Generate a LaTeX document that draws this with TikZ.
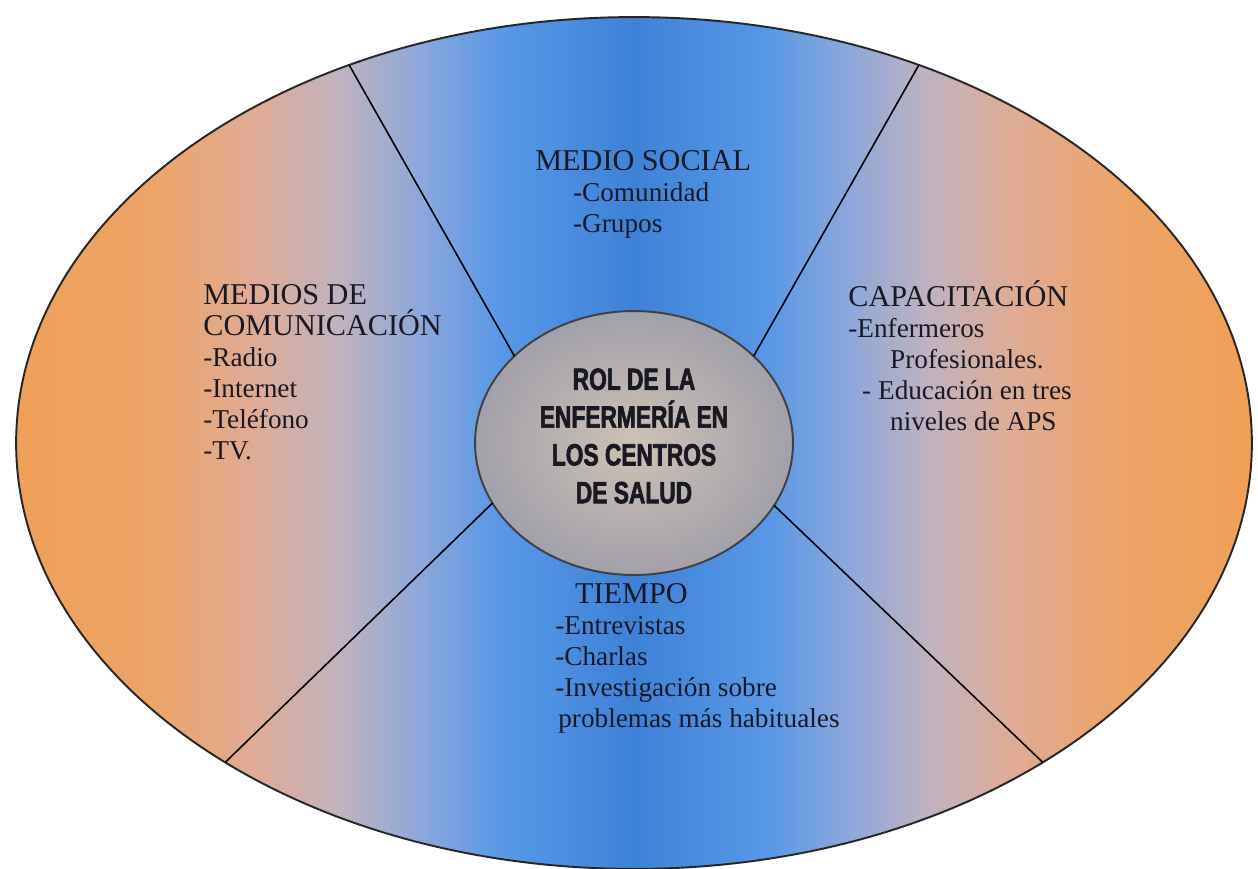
\documentclass[tikz,border=0pt]{standalone}
\usepackage{fontspec}
\setmainfont{Liberation Serif}
\newfontfamily\rolfont{Liberation Sans}[FakeStretch=0.74, FakeBold=2]
\usepackage{tikz}
\usetikzlibrary{shapes,positioning}

\definecolor{naranja}{RGB}{240,160,88}
\definecolor{naranjaclaro}{RGB}{236,164,104}
\definecolor{rosado}{RGB}{222,172,150}
\definecolor{grisrosa}{RGB}{192,178,192}
\definecolor{azulgris}{RGB}{140,168,218}
\definecolor{azulclaro}{RGB}{88,152,230}
\definecolor{azul}{RGB}{62,130,216}
\definecolor{centroclaro}{RGB}{206,194,180}
\definecolor{centrogris}{RGB}{162,160,170}
\definecolor{tinta}{RGB}{25,25,35}

% orange at the rim, blue down the middle
\pgfdeclarehorizontalshading{franjas}{100bp}{
  color(0bp)=(naranja); color(25bp)=(naranja); color(30.4bp)=(naranjaclaro);
  color(34.9bp)=(rosado); color(38.1bp)=(grisrosa); color(41.3bp)=(azulgris);
  color(44.6bp)=(azulclaro); color(50bp)=(azul); color(55.4bp)=(azulclaro);
  color(58.7bp)=(azulgris); color(61.9bp)=(grisrosa); color(65.1bp)=(rosado);
  color(69.6bp)=(naranjaclaro); color(75bp)=(naranja); color(100bp)=(naranja)}

\newcommand\titulo[1]{{\fontsize{17.2}{17.6}\selectfont #1}}

\tikzset{
marco/.style={ellipse, draw=black!85, line width=1.1pt, shading=franjas,
  minimum width=24.72cm, minimum height=17.04cm, inner sep=0pt, outer sep=0pt}, % the big oval
rol/.style={ellipse, draw=black!75, line width=1.1pt, inner color=centroclaro, outer color=centrogris,
  minimum width=6.36cm, minimum height=5.28cm, inner sep=0pt, outer sep=0pt}, % centre
rotulo/.style={align=center, inner sep=0pt, text=tinta, yshift=4pt,
  font=\rolfont\bfseries\fontsize{17.5}{21.5}\selectfont}, % centre title
divisor/.style={black, line width=0.9pt}, % lines between the sectors
bloque/.style={anchor=base west, align=left, inner sep=0pt, text=tinta,
  font=\fontsize{15.5}{17.6}\selectfont} % sector texts, placed by their last line
}

\begin{document}
\begin{tikzpicture}[x=0.02cm, y=-0.02cm]
        \useasboundingbox (0,0) rectangle (1258,869);
        \node [marco] (marco) at (634,443) {};
        \node [rol, label={[rotulo]center:ROL DE LA\\ENFERMERÍA EN\\LOS CENTROS\\DE SALUD}] (rol) at (634,443) {};
        \draw [divisor] (rol.144) -- (marco.127);
        \draw [divisor] (rol.36) -- (marco.53);
        \draw [divisor] (rol.203) -- (marco.218);
        \draw [divisor] (rol.336) -- (marco.322);
        \node [bloque] (social) at (535,232) {\titulo{MEDIO SOCIAL}\\\hspace*{21.5pt}-Comunidad\\\hspace*{21.5pt}-Grupos};
        \node [bloque] (medios) at (203,459) {\titulo{MEDIOS DE}\\\titulo{COMUNICACIÓN}\\-Radio\\-Internet\\-Teléfono\\-TV.};
        \node [bloque] (capacitacion) at (848,430) {\titulo{CAPACITACIÓN}\\-Enfermeros\\\hspace*{23.8pt}Profesionales.\\\hspace*{7.9pt}- Educación en tres\\\hspace*{23.8pt}niveles de APS};
        \node [bloque] (tiempo) at (555,727) {\hspace*{11.3pt}\titulo{TIEMPO}\\-Entrevistas\\-Charlas\\-Investigación sobre\\\hspace*{1.7pt}problemas más habituales};
\end{tikzpicture}
\end{document}
